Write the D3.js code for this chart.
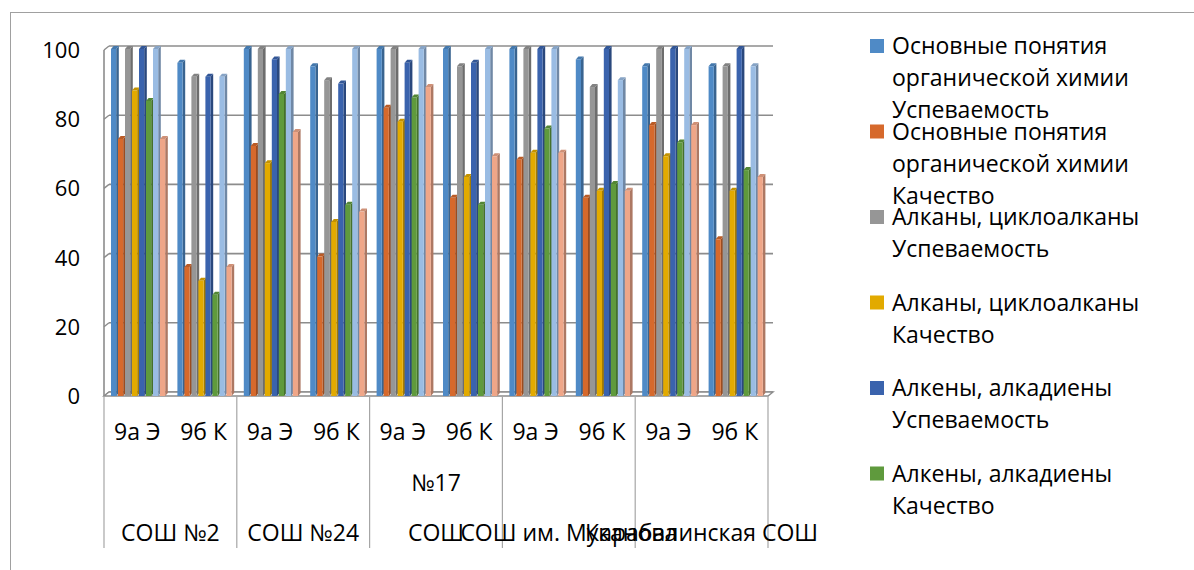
<!DOCTYPE html>
<html>
<head>
<meta charset="utf-8">
<script src="https://cdn.jsdelivr.net/npm/d3@7"></script>
<style>
  html, body { margin: 0; padding: 0; background: #fff; overflow: hidden; }
  svg { display: block; font-family: "Open Sans", "Noto Sans", sans-serif; }
</style>
</head>
<body>
<svg id="chart" width="1194" height="570"></svg>
<script>
// Classes within each school (inner category level)
const classes = ["9а Э", "9б К"];
// Schools (outer category level); each entry lists its label lines top to bottom
const schools = ["СОШ №2", "СОШ №24", "СОШ №17", "СОШ им. Муканова", "Карабалинская СОШ"];
const schoolLabelLines = [["СОШ №2"], ["СОШ №24"], ["№17", "СОШ"], ["СОШ им. Муканова"], ["Карабалинская СОШ"]];

// Series names
const seriesNames = [
  "Основные понятия органической химии Успеваемость",
  "Основные понятия органической химии Качество",
  "Алканы, циклоалканы Успеваемость",
  "Алканы, циклоалканы Качество",
  "Алкены, алкадиены Успеваемость",
  "Алкены, алкадиены Качество",
  "Арены Успеваемость",
  "Арены Качество"
];

// Values per series, in order: СОШ №2 (9а, 9б), СОШ №24, СОШ №17, им. Муканова, Карабалинская
const osnUsp  = [100, 96, 100, 95, 100, 100, 100, 97, 95, 95];
const osnKach = [74, 37, 72, 40, 83, 57, 68, 57, 78, 45];
const alkUsp  = [100, 92, 100, 91, 100, 95, 100, 89, 100, 95];
const alkKach = [88, 33, 67, 50, 79, 63, 70, 59, 69, 59];
const alkenUsp  = [100, 92, 97, 90, 96, 96, 100, 100, 100, 100];
const alkenKach = [85, 29, 87, 55, 86, 55, 77, 61, 73, 65];
const arenUsp  = [100, 92, 100, 100, 100, 100, 100, 91, 100, 95];
const arenKach = [74, 37, 76, 53, 89, 69, 70, 59, 78, 63];

const yTicks = [0, 20, 40, 60, 80, 100];

const seriesValues = [osnUsp, osnKach, alkUsp, alkKach, alkenUsp, alkenKach, arenUsp, arenKach];
const seriesColors = ["#4f8ac6", "#d6692c", "#969696", "#e2aa00", "#3a63ad", "#5f9a3d", "#9abce3", "#efa688"];

const svg = d3.select("#chart");

// Outer chart frame
svg.append("rect")
  .attr("x", 10.5).attr("y", 12.5)
  .attr("width", 1300).attr("height", 700)
  .attr("fill", "none").attr("stroke", "#a0a0a0").attr("stroke-width", 1);

// 3D box geometry: front plane and the depth offset of the back wall
const frontLeft = 104, frontRight = 768;
const depthX = 5, depthY = -4;

const yBack = d3.scaleLinear().domain([0, 100]).range([392, 46]);
const yFront = v => yBack(v) - depthY;

// Flattened category list (school, class)
const cats = [];
schools.forEach((s, si) => classes.forEach((c, ci) => cats.push({ school: si, cls: c, idx: si * classes.length + ci })));

const x0 = d3.scaleBand().domain(cats.map(d => d.idx)).range([frontLeft, frontRight]).paddingInner(0).paddingOuter(0);
const xSchool = d3.scaleBand().domain(d3.range(schools.length)).range([frontLeft, frontRight]);
const x1 = d3.scaleBand().domain(d3.range(seriesNames.length)).range([7, x0.bandwidth() - 3.4]);

const gridColor = "#8c8c8c";

// Back wall gridlines with the short diagonal on the left wall
const grid = svg.append("g");
yTicks.forEach(t => {
  grid.append("line")
    .attr("x1", frontLeft + depthX).attr("x2", frontRight + depthX)
    .attr("y1", yBack(t)).attr("y2", yBack(t))
    .attr("stroke", gridColor).attr("stroke-width", 1.6);
  grid.append("line")
    .attr("x1", frontLeft).attr("y1", yFront(t))
    .attr("x2", frontLeft + depthX).attr("y2", yBack(t))
    .attr("stroke", gridColor).attr("stroke-width", 1.4);
});
// Left wall edge
grid.append("line")
  .attr("x1", frontLeft).attr("x2", frontLeft)
  .attr("y1", yFront(100)).attr("y2", yFront(0))
  .attr("stroke", gridColor).attr("stroke-width", 1.6);

// Floor
svg.append("polygon")
  .attr("points", [
    [frontLeft, yFront(0)], [frontRight, yFront(0)],
    [frontRight + depthX, yBack(0)], [frontLeft + depthX, yBack(0)]
  ].map(p => p.join(",")).join(" "))
  .attr("fill", "#fff").attr("stroke", gridColor).attr("stroke-width", 1.4);

// Bars drawn as 3D prisms: front face, right side and top
const faceW = 5.2, sideX = 2.6, sideY = -3;
const barBottom = yFront(0);
const bars = svg.append("g");
cats.forEach(cat => {
  seriesValues.forEach((vals, s) => {
    const v = vals[cat.idx];
    const col = d3.color(seriesColors[s]);
    const xl = x0(cat.idx) + x1(s);
    const yt = yFront(v) - 1;
    const g = bars.append("g");
    // side face
    g.append("polygon")
      .attr("points", [[xl + faceW, yt], [xl + faceW + sideX, yt + sideY], [xl + faceW + sideX, barBottom + sideY], [xl + faceW, barBottom]].map(p => p.join(",")).join(" "))
      .attr("fill", col.darker(0.9));
    // top face
    g.append("polygon")
      .attr("points", [[xl, yt], [xl + sideX, yt + sideY], [xl + faceW + sideX, yt + sideY], [xl + faceW, yt]].map(p => p.join(",")).join(" "))
      .attr("fill", col.darker(0.4));
    // front face
    g.append("rect")
      .attr("x", xl).attr("y", yt)
      .attr("width", faceW).attr("height", barBottom - yt)
      .attr("fill", col);
  });
});

// Y axis labels
svg.append("g").selectAll("text").data(yTicks).join("text")
  .attr("x", 80).attr("y", d => yFront(d) + 8)
  .attr("text-anchor", "end")
  .attr("font-size", 22).attr("fill", "#000")
  .text(d => d);

// Category axis: separators between schools
const sepTop = yFront(0), sepBottom = 548;
const seps = d3.range(schools.length + 1).map(i => i < schools.length ? xSchool(i) : frontRight);
svg.append("g").selectAll("line").data(seps).join("line")
  .attr("x1", d => d).attr("x2", d => d)
  .attr("y1", sepTop).attr("y2", sepBottom)
  .attr("stroke", "#a6a6a6").attr("stroke-width", 1.2);

// Class labels
svg.append("g").selectAll("text").data(cats).join("text")
  .attr("x", d => x0(d.idx) + x0.bandwidth() / 2)
  .attr("y", 440)
  .attr("text-anchor", "middle")
  .attr("font-size", 23)
  .text(d => d.cls);

// School labels, anchored at the bottom row
schoolLabelLines.forEach((lines, i) => {
  const cx = xSchool(i) + xSchool.bandwidth() / 2;
  lines.forEach((ln, j) => {
    const fromBottom = lines.length - 1 - j;
    svg.append("text")
      .attr("x", cx).attr("y", 541 - fromBottom * 50)
      .attr("text-anchor", "middle")
      .attr("font-size", 23)
      .text(ln);
  });
});

// Legend: only entries whose slot fits inside the legend box are shown
const legendTop = 39, legendStep = 85.5, lineStep = 32, maxLineW = 270, legendBottom = 520;
const legend = svg.append("g");
seriesNames.forEach((name, i) => {
  const y0 = legendTop + i * legendStep;
  if (y0 + legendStep > legendBottom + 40) return;
  legend.append("rect")
    .attr("x", 870).attr("y", y0).attr("width", 14).attr("height", 14)
    .attr("fill", seriesColors[i]);
  const t = legend.append("text").attr("font-size", 23);
  // word wrap
  const words = name.split(" ");
  let line = [], lineNo = 0;
  let tspan = t.append("tspan").attr("x", 892).attr("y", y0 + 15);
  words.forEach(w => {
    line.push(w);
    tspan.text(line.join(" "));
    if (tspan.node().getComputedTextLength() > maxLineW && line.length > 1) {
      line.pop();
      tspan.text(line.join(" "));
      line = [w];
      lineNo++;
      tspan = t.append("tspan").attr("x", 892).attr("y", y0 + 15 + lineNo * lineStep).text(w);
    }
  });
});
</script>
</body>
</html>
